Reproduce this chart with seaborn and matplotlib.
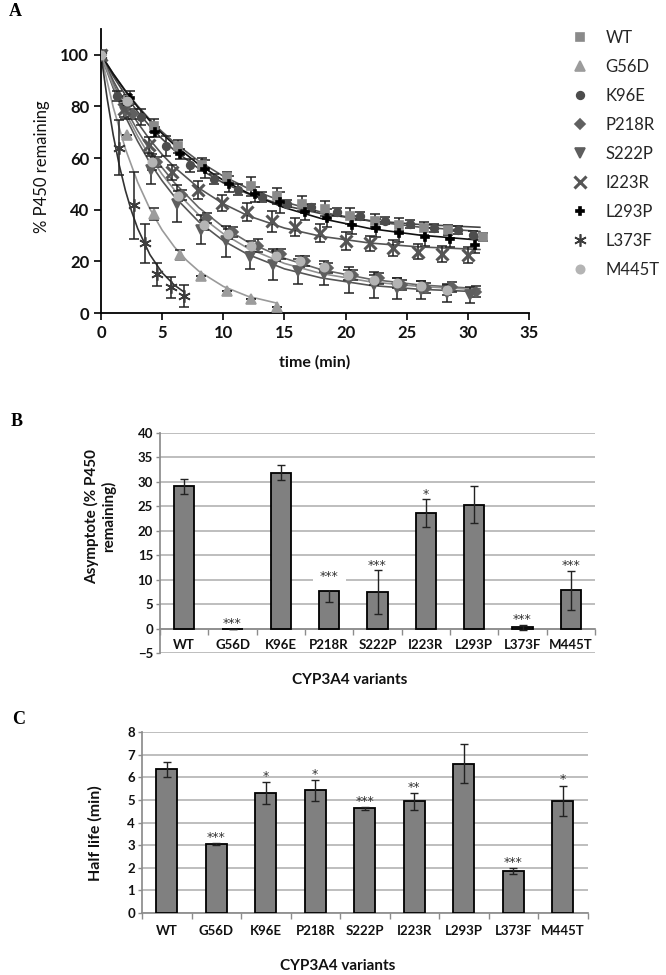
import matplotlib
matplotlib.use("Agg")
import matplotlib.pyplot as plt
from matplotlib.lines import Line2D
import seaborn as sns

# ---- panel A: P450 remaining vs time (mean +/- sd) ----
t_wt = [0, 2.2, 4.3, 6.3, 8.3, 10.3, 12.3, 14.4, 16.4, 18.3, 20.4, 22.4, 24.4, 26.4, 28.4, 31.2]
y_wt = [100, 82.5, 72.5, 64.5, 57.5, 52.8, 49.0, 45.3, 42.4, 40.4, 37.6, 35.8, 34.2, 32.9, 32.2, 29.5]
e_wt = [0, 2.0, 2.5, 2.5, 2.5, 2.0, 3.5, 3.0, 3.0, 3.0, 3.0, 2.5, 2.5, 2.5, 2.0, 1.5]

t_g56d = [0, 2.1, 4.3, 6.5, 8.2, 10.3, 12.3, 14.4]
y_g56d = [100, 69, 38.5, 22.5, 14.5, 8.5, 5.5, 2.5]
e_g56d = [0, 0, 2.3, 2.0, 0, 0, 0, 0]

t_k96e = [0, 1.3, 3.3, 5.3, 7.3, 9.2, 11.2, 13.2, 15.2, 17.2, 19.3, 21.2, 23.2, 25.3, 27.2, 29.2, 30.4]
y_k96e = [100, 84, 76, 64.6, 57.2, 52.0, 47.8, 45.0, 42.4, 40.9, 39.2, 37.6, 35.8, 34.5, 32.8, 32.2, 30.2]
e_k96e = [0, 2, 3, 3.9, 2.5, 2, 2, 2, 1.5, 1.5, 1.5, 1.5, 1.5, 1.5, 1.5, 1.5, 1.5]

t_p218r = [0, 2.6, 4.6, 6.6, 8.7, 10.8, 12.8, 14.7, 16.7, 18.6, 20.6, 22.7, 24.6, 26.6, 28.7, 30.7]
y_p218r = [100, 77, 58.4, 45.6, 36.8, 31.3, 26.0, 22.8, 20.2, 17.4, 14.7, 13.4, 10.9, 9.6, 10.0, 8.3]
e_p218r = [0, 2, 2, 2, 2, 2, 2.5, 2, 2, 2, 2, 2, 2, 2, 2, 2]

t_s222p = [0, 2.0, 4.1, 6.2, 8.2, 10.2, 12.2, 14.1, 16.1, 18.2, 20.3, 22.3, 24.2, 26.2, 28.3, 30.2]
y_s222p = [100, 78, 55.3, 42.4, 32.3, 27.8, 21.5, 18.7, 16.1, 15.0, 12.8, 10.9, 9.6, 8.9, 7.6, 7.0]
e_s222p = [0, 3, 5.5, 7, 5.5, 6, 4.5, 6, 5, 4, 5, 5, 4, 3.5, 3.5, 3]

t_i223r = [0, 1.9, 3.9, 5.8, 7.9, 9.9, 11.9, 14.0, 15.9, 17.9, 20.0, 22.0, 23.9, 25.9, 27.9, 30.0]
y_i223r = [100, 79, 65, 54.5, 47.7, 42.6, 39.0, 35.5, 33.2, 31.0, 27.8, 27.0, 25.1, 23.8, 22.9, 22.5]
e_i223r = [0, 3, 3, 3, 3.5, 3, 3.5, 4, 3.5, 3.5, 3.5, 3, 3, 3, 3, 3]

t_l293p = [0, 2.4, 4.4, 6.5, 8.5, 10.5, 12.6, 14.6, 16.7, 18.5, 20.5, 22.5, 24.4, 26.5, 28.5, 30.6]
y_l293p = [100, 83.3, 70.2, 61.6, 55.6, 50.0, 45.9, 42.9, 39.0, 36.7, 34.1, 32.8, 30.9, 29.6, 28.6, 26.4]
e_l293p = [0, 2.5, 2, 2, 3.5, 3, 3, 4, 3, 3.5, 3.5, 3.5, 3.5, 3.5, 3, 3]

t_l373f = [0, 1.5, 2.7, 3.6, 4.6, 5.7, 6.8]
y_l373f = [100, 64, 41.7, 27, 15, 10, 6.7]
e_l373f = [0, 10.7, 13, 7.6, 4.5, 4, 4.2]

t_m445t = [0, 2.1, 4.2, 6.3, 8.4, 10.4, 12.3, 14.3, 16.3, 18.2, 20.2, 22.3, 24.2, 26.2, 28.3]
y_m445t = [100, 82, 58.4, 45.2, 34.0, 30.5, 25.8, 22.0, 20.0, 18.0, 14.7, 12.8, 11.5, 10.5, 8.9]
e_m445t = [0, 2, 3, 2, 2, 2, 2, 2, 2, 2, 2, 2, 2, 2, 2]

# fitted decay curves
fit_t = [0, 1, 2, 3, 4, 5, 6, 8, 10, 12, 15, 18, 22, 26, 31]
fit_wt = [100, 92.7, 86.1, 80.2, 74.9, 70.2, 66.0, 58.8, 53.0, 48.3, 43.0, 39.1, 35.6, 33.3, 31.6]
fit_k96e = [100, 91.7, 84.4, 77.9, 72.3, 67.4, 63.0, 55.9, 50.4, 46.2, 41.6, 38.5, 35.8, 34.3, 33.2]
fit_p218r = [100, 88.9, 79.1, 70.6, 63.0, 56.3, 50.5, 40.8, 33.3, 27.5, 21.2, 16.8, 13.1, 10.9, 9.4]
fit_s222p = [100, 87.1, 76.0, 66.5, 58.2, 51.2, 45.1, 35.3, 28.0, 22.7, 17.1, 13.6, 10.7, 9.2, 8.2]
fit_i223r = [100, 90.0, 81.3, 73.7, 67.1, 61.4, 56.5, 48.4, 42.3, 37.7, 32.9, 29.7, 27.1, 25.6, 24.6]
fit_l293p = [100, 92.6, 85.9, 79.8, 74.4, 69.5, 65.1, 57.5, 51.4, 46.5, 40.8, 36.6, 32.7, 30.2, 28.2]
fit_m445t = [100, 88.0, 77.6, 68.5, 60.6, 53.7, 47.7, 38.0, 30.7, 25.1, 19.2, 15.3, 12.1, 10.3, 9.0]
fit_t_g56d = [0, 1, 2, 3, 4, 5, 6, 7, 8, 10, 12, 14.4]
fit_g56d = [100, 79.7, 63.5, 50.6, 40.3, 32.1, 25.6, 20.4, 16.2, 10.3, 6.5, 3.8]
fit_t_l373f = [0, 0.5, 1, 1.5, 2, 2.5, 3, 4, 5, 6, 6.8]
fit_l373f = [100, 83.2, 68.9, 57.1, 47.4, 39.4, 32.7, 22.6, 15.6, 10.8, 8.1]

# ---- panels B and C ----
variants = ["WT", "G56D", "K96E", "P218R", "S222P", "I223R", "L293P", "L373F", "M445T"]
asym = [29.1, 0, 31.9, 7.6, 7.4, 23.6, 25.3, 0.3, 7.8]
asym_err = [1.5, 0, 1.5, 2.1, 4.5, 2.9, 3.8, 0.5, 4.0]
asym_sig = ["", "***", "", "***", "***", "*", "", "***", "***"]

halflife = [6.35, 3.05, 5.3, 5.42, 4.63, 4.93, 6.6, 1.85, 4.95]
halflife_err = [0.32, 0.03, 0.47, 0.45, 0.07, 0.37, 0.85, 0.13, 0.68]
halflife_sig = ["", "***", "*", "*", "***", "**", "", "***", "*"]

sns.set_theme(style="white")
plt.rcParams["font.family"] = ["Lato", "DejaVu Sans"]

W, H = 666, 975
fig = plt.figure(figsize=(W / 100, H / 100), dpi=100)

def fx(px):
    return px / W

def fy(py):
    return 1 - py / H

# ---------------- panel A ----------------
axA = fig.add_axes([fx(101), fy(313), fx(529) - fx(101), fy(29) - fy(313)])

series = [
    # name, t, y, err, fit_t, fit_y, marker, mcolor, ms, line color
    ("WT", t_wt, y_wt, e_wt, fit_t, fit_wt, "s", "#8a8a8a", 6, "#555555"),
    ("G56D", t_g56d, y_g56d, e_g56d, fit_t_g56d, fit_g56d, "^", "#9c9c9c", 7, "#9a9a9a"),
    ("K96E", t_k96e, y_k96e, e_k96e, fit_t, fit_k96e, "o", "#4d4d4d", 5.5, "#444444"),
    ("P218R", t_p218r, y_p218r, e_p218r, fit_t, fit_p218r, "D", "#606060", 5, "#666666"),
    ("S222P", t_s222p, y_s222p, e_s222p, fit_t, fit_s222p, "v", "#5e5e5e", 7, "#555555"),
    ("I223R", t_i223r, y_i223r, e_i223r, fit_t, fit_i223r, "x", "#555555", 9, "#555555"),
    ("L293P", t_l293p, y_l293p, e_l293p, fit_t, fit_l293p, "P", "#000000", 6, "#111111"),
    ("L373F", t_l373f, y_l373f, e_l373f, fit_t_l373f, fit_l373f, (6, 2, 0), "#3c3c3c", 9, "#333333"),
    ("M445T", t_m445t, y_m445t, e_m445t, fit_t, fit_m445t, "o", "#b4b4b4", 6, "#8f8f8f"),
]

handles = []
for name, t, y, e, ft, fv, mk, mc, ms, lc in series:
    sns.lineplot(x=ft, y=fv, ax=axA, color=lc, linewidth=1.2, sort=False, zorder=2)
    axA.errorbar(t, y, yerr=e, fmt="none", ecolor="#222222", elinewidth=1.1,
                 capsize=3.5, capthick=1.1, zorder=3)
    mew = 2.2 if mk == "x" else 1.2
    axA.plot(t, y, linestyle="none", marker=mk, markersize=ms, color=mc,
             markeredgecolor=mc, markeredgewidth=mew, zorder=4)
    handles.append(Line2D([], [], linestyle="none", marker=mk, markersize=ms,
                          color=mc, markeredgecolor=mc, markeredgewidth=mew, label=name))

axA.set_xlim(0, 35)
axA.set_ylim(0, 110)
axA.set_xticks(range(0, 36, 5))
axA.set_yticks(range(0, 101, 20))
for s in ["top", "right"]:
    axA.spines[s].set_visible(False)
for s in ["left", "bottom"]:
    axA.spines[s].set_color("black")
    axA.spines[s].set_linewidth(1.3)
axA.tick_params(direction="out", length=5, width=1.2, color="black",
                labelsize=12, labelcolor="#111111", left=True, bottom=True)
for lab in axA.get_xticklabels() + axA.get_yticklabels():
    lab.set_fontweight("bold")
axA.set_xlabel("")
axA.set_ylabel("")

fig.text(fx(315), fy(362), "time (min)", ha="center", va="center",
         fontsize=11.5, fontweight="bold", color="#111111")
fig.text(fx(42), fy(167), "% P450 remaining", ha="center", va="center",
         rotation=90, fontsize=12, color="#111111")

fig.legend(handles=handles, loc="upper left", bbox_to_anchor=(fx(572), fy(30)),
           frameon=False, fontsize=12, labelspacing=0.78, handlelength=1.0,
           handletextpad=1.0, borderaxespad=0, borderpad=0)

# ---------------- bar panel helper ----------------
def bar_panel(ax, vals, errs, sig, ymin, ymax, step, star_off, label_y, boxed=()):
    sns.barplot(x=variants, y=vals, ax=ax, color="#808080", saturation=1,
                edgecolor="black", linewidth=1.3, width=0.42, errorbar=None, zorder=3)
    ax.errorbar(range(len(variants)), vals, yerr=errs, fmt="none", ecolor="#222222",
                elinewidth=1, capsize=3, capthick=1, zorder=4)
    ax.set_xlim(-0.5, len(variants) - 0.5)
    ax.set_ylim(ymin, ymax)
    ax.set_yticks(range(ymin, ymax + 1, step))
    ax.yaxis.grid(True, color="#b3b3b3", linewidth=1.2, zorder=0)
    ax.xaxis.grid(False)
    ax.set_axisbelow(True)
    for s in ["top", "right"]:
        ax.spines[s].set_visible(False)
    ax.spines["left"].set_color("#8c8c8c")
    ax.spines["bottom"].set_color("#8c8c8c")
    ax.spines["bottom"].set_position(("data", 0))
    ax.set_xticks([i + 0.5 for i in range(-1, len(variants))], minor=True)
    ax.tick_params(axis="x", which="major", length=0, labelbottom=False)
    ax.tick_params(axis="x", which="minor", direction="out", length=4, width=1,
                   color="#8c8c8c", bottom=True)
    ax.tick_params(axis="y", direction="out", length=3, width=1, color="#8c8c8c",
                   left=True, labelsize=9.5, labelcolor="#111111", pad=2)
    for lab in ax.get_yticklabels():
        lab.set_fontweight("bold")
    ax.set_xlabel("")
    ax.set_ylabel("")
    for i, name in enumerate(variants):
        ax.text(i, label_y, name, ha="center", va="center", fontsize=9.5,
                fontweight="bold", color="#111111", clip_on=False)
        if sig[i]:
            txt = ax.text(i, vals[i] + errs[i] + star_off, sig[i], ha="center",
                          va="center", fontsize=9, family="DejaVu Sans",
                          color="#333333", zorder=5)
            if name in boxed:
                txt.set_bbox(dict(facecolor="white", edgecolor="none", pad=5))

# ---------------- panel B ----------------
axB = fig.add_axes([fx(160), fy(653), fx(595) - fx(160), fy(433) - fy(653)])
bar_panel(axB, asym, asym_err, asym_sig, -5, 40, 5, 1.0, -3.3, boxed=("P218R",))
fig.text(fx(100), fy(516), "Asymptote (% P450\nremaining)", ha="center", va="center",
         rotation=90, fontsize=11, fontweight="bold", color="#111111",
         multialignment="center", linespacing=1.1)
fig.text(fx(350), fy(680), "CYP3A4 variants", ha="center", va="center",
         fontsize=11, fontweight="bold", color="#111111")

# ---------------- panel C ----------------
axC = fig.add_axes([fx(142), fy(913), fx(587.5) - fx(142), fy(732) - fy(913)])
bar_panel(axC, halflife, halflife_err, halflife_sig, 0, 8, 1, 0.25, -0.8)
fig.text(fx(95), fy(833), "Half life (min)", ha="center", va="center",
         rotation=90, fontsize=11.5, fontweight="bold", color="#111111")
fig.text(fx(338), fy(966), "CYP3A4 variants", ha="center", va="center",
         fontsize=11, fontweight="bold", color="#111111")

# panel letters
for letter, px, py in [("A", 9, 12), ("B", 11, 421), ("C", 12, 720)]:
    fig.text(fx(px), fy(py), letter, ha="left", va="center", fontsize=13,
             fontweight="bold", family="Liberation Serif", color="black")

fig.savefig("out.png", dpi=100, facecolor="white")
